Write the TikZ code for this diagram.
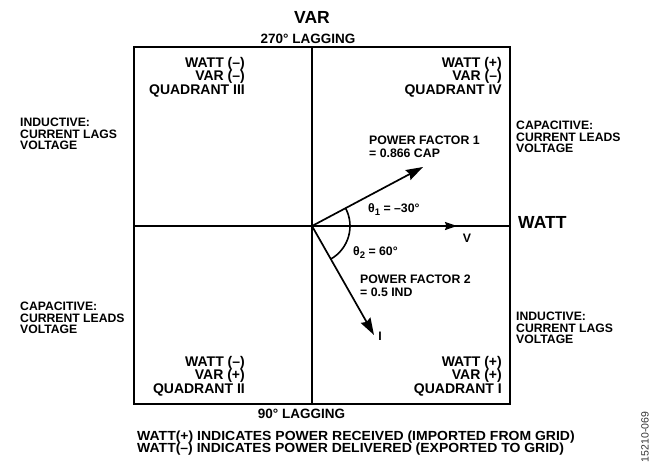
\documentclass[tikz,border=0pt]{standalone}
\usepackage{fontspec}
\setmainfont{Liberation Sans}
\usetikzlibrary{arrows.meta}
\tikzset{
  frame/.style={line width=2.4pt},
  vec/.style={line width=1.7pt,-{Stealth[length=17pt,width=11pt,inset=2pt]}},
  vvec/.style={line width=1.7pt,-{Stealth[length=12pt,width=8pt,inset=1.5pt]}},
  ang/.style={line width=1.6pt},
  quad/.style={inner sep=0pt,align=right,font=\bfseries\fontsize{14}{13.5}\selectfont},
  side/.style={inner sep=0pt,align=left,font=\bfseries\fontsize{12.2}{11.5}\selectfont},
  small/.style={inner sep=0pt,align=left,font=\bfseries\fontsize{12.3}{12.5}\selectfont},
  big/.style={inner sep=0pt,font=\bfseries\fontsize{17.5}{18}\selectfont},
  mid/.style={inner sep=0pt,font=\bfseries\fontsize{13.5}{14}\selectfont},
  foot/.style={inner sep=0pt,align=left,font=\bfseries\fontsize{13.2}{11}\selectfont\addfontfeatures{FakeStretch=1.06}},
  tag/.style={inner sep=0pt,font=\fontsize{10.5}{11}\selectfont,text=black!80}
}
\newcommand{\sbs}[1]{\raisebox{-3pt}{\fontsize{9.5}{10}\selectfont #1}}
\begin{document}
\begin{tikzpicture}[x=1pt,y=-1pt]
\useasboundingbox (0,0) rectangle (668,475);
% frame and axes
\node[draw,frame,minimum width=376pt,minimum height=357pt,inner sep=0pt,anchor=north west] (box) at (133,46) {};
\coordinate (O) at (312,226);
\draw[frame] (box.north -| O) -- (box.south -| O);
\draw[frame] (box.west |- O) -- (box.east |- O);
% vectors
\coordinate (P1) at (423,167);
\coordinate (Vt) at (457,226);
\coordinate (It) at (374,335);
\draw[vec] (O) -- (P1);
\draw[vvec] (O) -- (Vt);
\draw[vec] (O) -- (It);
\draw[ang] ([shift={(-28:38)}]O) arc[start angle=-28,end angle=60,radius=38];
% titles
\node[big,anchor=base] (var) at (312,23) {VAR};
\node[mid,anchor=base] (lag270) at (308,43) {270° LAGGING};
\node[mid,anchor=base] (lag90) at (301.5,418) {90° LAGGING};
\node[big,anchor=base west] (watt) at (518,228) {WATT};
% quadrants
\node[quad,anchor=north east] (q3) at (245,57) {WATT (–)\\VAR (–)\\QUADRANT III};
\node[quad,anchor=north east] (q4) at (502,57) {WATT (+)\\VAR (–)\\QUADRANT IV};
\node[quad,anchor=north east] (q2) at (245,356) {WATT (–)\\VAR (+)\\QUADRANT II};
\node[quad,anchor=north east] (q1) at (502,356) {WATT (+)\\VAR (+)\\QUADRANT I};
% side notes
\node[side,anchor=north west] (sl1) at (20,118) {INDUCTIVE:\\CURRENT LAGS\\VOLTAGE};
\node[side,anchor=north west] (sr1) at (516,121) {CAPACITIVE:\\CURRENT LEADS\\VOLTAGE};
\node[side,anchor=north west] (sl2) at (20,302) {CAPACITIVE:\\CURRENT LEADS\\VOLTAGE};
\node[side,anchor=north west] (sr2) at (516,312) {INDUCTIVE:\\CURRENT LAGS\\VOLTAGE};
% vector labels
\node[small,anchor=north west] (pf1) at (369,136) {POWER FACTOR 1\\= 0.866 CAP};
\node[small,anchor=north west] (pf2) at (360,275) {POWER FACTOR 2\\= 0.5 IND};
\node[small,anchor=base west] (th1) at (368,212) {θ\sbs{1} = –30°};
\node[small,anchor=base west] (th2) at (353,255) {θ\sbs{2} = 60°};
\node[small] (vl) at (467,238) {V};
\node[small] (il) at (380,336.5) {I};
% footer
\node[foot,anchor=base west] (f1) at (137,440.5) {WATT(+) INDICATES POWER RECEIVED (IMPORTED FROM GRID)};
\node[foot,anchor=base west] (f2) at (137,452.5) {WATT(–) INDICATES POWER DELIVERED (EXPORTED TO GRID)};
\node[tag,rotate=90] (id) at (645,437) {15210-069};
\end{tikzpicture}
\end{document}
